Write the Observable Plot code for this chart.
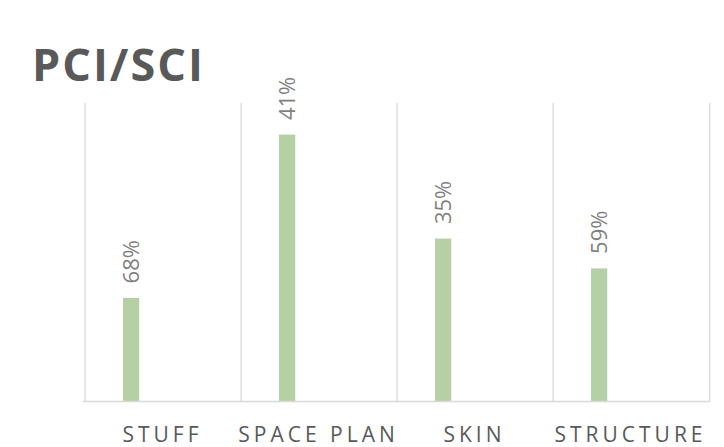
<!DOCTYPE html>
<html><head><meta charset="utf-8">
<script src="https://cdn.jsdelivr.net/npm/d3@7"></script>
<script src="https://cdn.jsdelivr.net/npm/@observablehq/plot@0.6"></script>
<style>
body{margin:0;background:#fff;font-family:"Open Sans",sans-serif;}
#wrap{position:relative;width:724px;height:447px;overflow:hidden;background:#fff}
#title{position:absolute;left:32px;top:41px;font-size:45px;line-height:45px;letter-spacing:2px;font-weight:700;color:#595959;margin:0;white-space:nowrap}
#chart{position:absolute;left:0;top:95px}
</style></head><body>
<div id="wrap"><div id="title">PCI/SCI</div><div id="chart"></div></div>
<script>
const categories = ["STUFF", "SPACE PLAN", "SKIN", "STRUCTURE"];
const values = [34.6, 89.4, 54.5, 44.5];
const labels = ["68%", "41%", "35%", "59%"];

const data = categories.map((c, i) => ({category: c, value: values[i], label: labels[i]}));
const W = 724, H = 352, ML = 83, MR = 14, MT = 8, MB = 46;
const bw = (W - ML - MR) / categories.length;
const barLeft = 38, barWidth = 17;

const chart = Plot.plot({
  width: W, height: H, marginLeft: ML, marginRight: MR, marginTop: MT, marginBottom: MB,
  style: {fontFamily: "Open Sans", overflow: "visible", background: "transparent", color: "#595959"},
  x: {domain: categories, padding: 0, label: null, tickSize: 0, tickPadding: 26},
  y: {domain: [0, 100], axis: null},
  marks: [
    Plot.ruleX(categories, {x: d => d, dx: -bw / 2, stroke: "#d9d9d9", strokeWidth: 1.3}),
    Plot.ruleX([categories[categories.length - 1]], {x: d => d, dx: bw / 2, stroke: "#d9d9d9", strokeWidth: 1.3}),
    Plot.barY(data, {x: "category", y: "value", fill: "#b5d0a5",
      insetLeft: barLeft, insetRight: bw - barLeft - barWidth}),
    Plot.ruleY([0], {stroke: "#d9d9d9", strokeWidth: 1.3}),
    Plot.text(data, {x: "category", y: "value", text: "label", rotate: -90, textAnchor: "start",
      dy: -15, dx: barLeft + barWidth / 2 - bw / 2, fill: "#7f7f7f", fontSize: 22})
  ]
});
d3.select(chart).selectAll("text")
  .filter(function() { return categories.includes(this.textContent); })
  .style("font-size", "21px")
  .style("letter-spacing", "4px")
  .attr("dx", "-1px")
  .attr("fill", "#595959");
document.getElementById("chart").appendChild(chart);
</script>
</body></html>
